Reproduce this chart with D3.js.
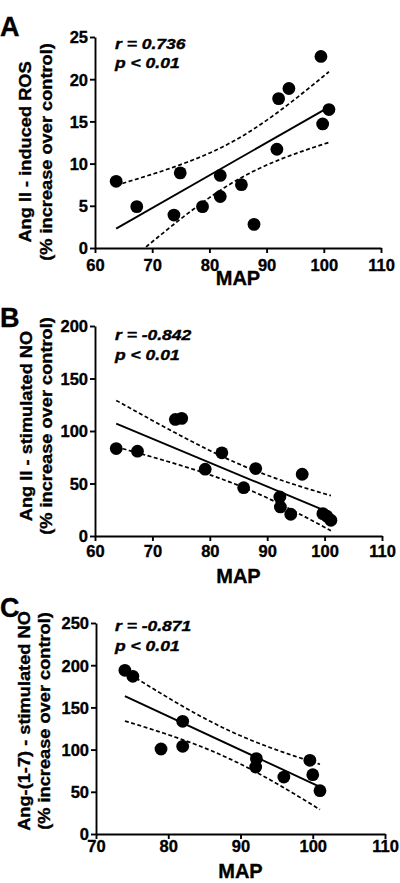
<!DOCTYPE html>
<html><head><meta charset="utf-8">
<script src="https://cdn.jsdelivr.net/npm/d3@7"></script>
<style>
body{margin:0;background:#fff;}
text{font-family:"Liberation Sans",Arial,sans-serif;font-weight:bold;fill:#000;stroke:#000;stroke-width:0.35px;}
</style></head>
<body>
<svg id="chart" width="400" height="883"></svg>
<script>
// ---- data ----
const xLabel = "MAP";
const panelLetters = ["A", "B", "C"];
const yLabels1 = ["Ang II - induced ROS", "Ang II - stimulated NO", "Ang-(1-7) - stimulated NO"];
const yLabel2 = "(% increase over control)";
const rTexts = ["r = 0.736", "r = -0.842", "r = -0.871"];
const pText = "p < 0.01";

const aX = [63.7, 67.3, 73.8, 74.9, 78.8, 81.9, 81.9, 85.6, 87.8, 91.8, 92.1, 93.9, 99.5, 99.8, 100.9];
const aY = [7.9, 4.9, 3.9, 8.9, 4.9, 8.6, 6.1, 7.5, 2.8, 11.7, 17.7, 18.9, 22.7, 14.7, 16.4];
const bX = [63.7, 67.4, 74.0, 75.1, 79.2, 82.1, 85.9, 88.0, 92.2, 92.3, 94.1, 96.1, 99.7, 100.4, 101.1];
const bY = [83.3, 80.8, 111, 112, 63.6, 79.2, 46, 64.2, 37.2, 27.7, 20.7, 58.8, 21.3, 18.8, 15];
const cX = [74.0, 75.1, 79.0, 82.0, 82.0, 92.2, 92.1, 96.0, 99.6, 100.0, 101.0];
const cY = [193.9, 186.8, 100.7, 133.5, 103.9, 89.3, 79.4, 67.5, 87.3, 70.3, 51.3];

const aXTicks = [60, 70, 80, 90, 100, 110], aYTicks = [0, 5, 10, 15, 20, 25];
const bXTicks = [60, 70, 80, 90, 100, 110], bYTicks = [0, 50, 100, 150, 200];
const cXTicks = [70, 80, 90, 100, 110], cYTicks = [0, 50, 100, 150, 200, 250];
const tCrit = [2.160, 2.160, 2.262]; // t(0.975, n-2)

// ---- layout ----
const panels = [
  {xs: aX, ys: aY, xt: aXTicks, yt: aYTicks, l: 95, r: 381, t: 37, b: 248, tickOff: 23, mapY: 285, rY: 48.5, pY: 68, letterY: 36, labC: 152, l1x: 31, l2x: 52},
  {xs: bX, ys: bY, xt: bXTicks, yt: bYTicks, l: 95, r: 382, t: 326, b: 536, tickOff: 21, mapY: 583, rY: 340, pY: 360, letterY: 327, labC: 426, l1x: 32, l2x: 52},
  {xs: cX, ys: cY, xt: cXTicks, yt: cYTicks, l: 96, r: 385, t: 623, b: 834, tickOff: 17.5, mapY: 878, rY: 631, pY: 651, letterY: 617, labC: 721, l1x: 30, l2x: 50}
];

const svg = d3.select("#chart");

panels.forEach((p, i) => {
  const x = d3.scaleLinear().domain([p.xt[0], p.xt[p.xt.length - 1]]).range([p.l, p.r]);
  const y = d3.scaleLinear().domain([p.yt[0], p.yt[p.yt.length - 1]]).range([p.b, p.t]);
  const g = svg.append("g");

  const cid = "clip" + i;
  svg.append("clipPath").attr("id", cid).append("rect")
    .attr("x", p.l).attr("y", p.t - 5).attr("width", p.r - p.l).attr("height", p.b - p.t + 5);

  // regression + 95% confidence band computed from the points
  const n = p.xs.length;
  const mx = d3.mean(p.xs), my = d3.mean(p.ys);
  let sxx = 0, sxy = 0;
  for (let k = 0; k < n; k++) { sxx += (p.xs[k] - mx) ** 2; sxy += (p.xs[k] - mx) * (p.ys[k] - my); }
  const slope = sxy / sxx, icpt = my - slope * mx;
  let sse = 0;
  for (let k = 0; k < n; k++) sse += (p.ys[k] - (icpt + slope * p.xs[k])) ** 2;
  const s = Math.sqrt(sse / (n - 2));
  const x0 = d3.min(p.xs), x1 = d3.max(p.xs);
  const grid = d3.range(0, 101).map(j => x0 + (x1 - x0) * j / 100);
  const fit = xv => icpt + slope * xv;
  const half = xv => tCrit[i] * s * Math.sqrt(1 / n + (xv - mx) ** 2 / sxx);
  const line = d3.line().x(d => x(d[0])).y(d => y(d[1]));

  const lg = g.append("g").attr("clip-path", `url(#${cid})`);
  lg.append("path").attr("d", line(grid.map(v => [v, fit(v) + half(v)])))
    .attr("fill", "none").attr("stroke", "#000").attr("stroke-width", 1.7).attr("stroke-dasharray", "4,2.5");
  lg.append("path").attr("d", line(grid.map(v => [v, fit(v) - half(v)])))
    .attr("fill", "none").attr("stroke", "#000").attr("stroke-width", 1.7).attr("stroke-dasharray", "4,2.5");
  lg.append("path").attr("d", line([[x0, fit(x0)], [x1, fit(x1)]]))
    .attr("fill", "none").attr("stroke", "#000").attr("stroke-width", 1.9);

  g.selectAll("circle.pt").data(p.xs.map((v, k) => [v, p.ys[k]])).enter().append("circle")
    .attr("cx", d => x(d[0])).attr("cy", d => y(d[1])).attr("r", 6.4).attr("fill", "#000");

  const ax = g.append("g").attr("transform", `translate(0,${p.b})`)
    .call(d3.axisBottom(x).tickValues(p.xt).tickSize(5).tickSizeOuter(0).tickFormat(d3.format("d")));
  const ay = g.append("g").attr("transform", `translate(${p.l},0)`)
    .call(d3.axisLeft(y).tickValues(p.yt).tickSize(5).tickSizeOuter(0).tickFormat(d3.format("d")));
  [ax, ay].forEach(a => {
    a.select(".domain").attr("stroke", "#000").attr("stroke-width", 1.9);
    a.selectAll(".tick line").attr("stroke", "#000").attr("stroke-width", 1.9);
    a.selectAll("text").style("font-size", "16.5px").style("font-family", "Liberation Sans, Arial, sans-serif")
      .style("font-weight", "bold").attr("fill", "#000");
  });
  ax.selectAll("text").attr("dy", null).attr("y", p.tickOff);
  ay.selectAll("text").attr("x", -7).attr("dy", "0.36em");

  g.append("text").attr("x", (p.l + p.r) / 2).attr("y", p.mapY).attr("text-anchor", "middle")
    .style("font-size", "20px").text(xLabel);

  [[yLabels1[i], p.l1x], [yLabel2, p.l2x]].forEach(([txt, bx]) => {
    g.append("text").attr("transform", `translate(${bx},${p.labC}) rotate(-90) scale(1.14,1)`)
      .attr("text-anchor", "middle").style("font-size", "16px").text(txt);
  });

  g.append("text").attr("transform", `translate(115,${p.rY}) scale(1.25,1)`)
    .style("font-size", "14px").style("font-style", "italic").text(rTexts[i]);
  g.append("text").attr("transform", `translate(115,${p.pY}) scale(1.25,1)`)
    .style("font-size", "14px").style("font-style", "italic").text(pText);

  g.append("text").attr("x", 0).attr("y", p.letterY).style("font-size", "27px").text(panelLetters[i]);
});
</script>
</body></html>
